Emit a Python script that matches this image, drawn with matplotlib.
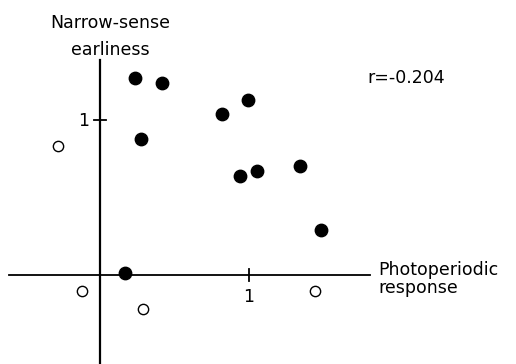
import matplotlib.pyplot as plt

# photoperiodic response (x) vs narrow-sense earliness (y)
filled_x = [0.24, 0.42, 0.28, 0.82, 0.99, 0.94, 1.05, 1.34, 1.48, 0.17]
filled_y = [1.27, 1.24, 0.88, 1.04, 1.13, 0.64, 0.67, 0.70, 0.29, 0.015]
open_x = [-0.28, -0.12, 0.29, 1.44]
open_y = [0.83, -0.10, -0.22, -0.10]
r_text = 'r=-0.204'

fig = plt.figure(figsize=(5.16, 3.64), dpi=100)
ax = fig.add_axes([0, 0, 1, 1])
ax.set_xlim(-0.666, 2.786)
ax.set_ylim(-0.574, 1.774)
ax.axis('off')

# hand-drawn style axes crossing at origin
ax.plot([-0.605, 1.81], [0, 0], color='black', lw=1.3)
ax.plot([0, 0], [-0.574, 1.387], color='black', lw=1.6)
ax.plot([1, 1], [-0.04, 0.04], color='black', lw=1.3)
ax.plot([-0.04, 0.04], [1, 1], color='black', lw=1.3)

ax.scatter(filled_x, filled_y, s=80, color='black', zorder=3)
ax.scatter(open_x, open_y, s=55, facecolor='white', edgecolor='black',
           linewidths=1.0, zorder=3)

font = dict(family='DejaVu Sans', fontsize=12.5, color='black')
ax.text(-0.105, 0.994, '1', ha='center', va='center', **font)
ax.text(0.995, -0.142, '1', ha='center', va='center', **font)
ax.text(0.07, 1.594, 'Narrow-sense', ha='center', va='baseline', **font)
ax.text(0.07, 1.419, 'earliness', ha='center', va='baseline', **font)
ax.text(1.789, 1.237, r_text, ha='left', va='baseline', **font)
ax.text(1.863, 0.0, 'Photoperiodic', ha='left', va='baseline', **font)
ax.text(1.863, -0.116, 'response', ha='left', va='baseline', **font)

fig.savefig('out.png', dpi=100, facecolor='white')
